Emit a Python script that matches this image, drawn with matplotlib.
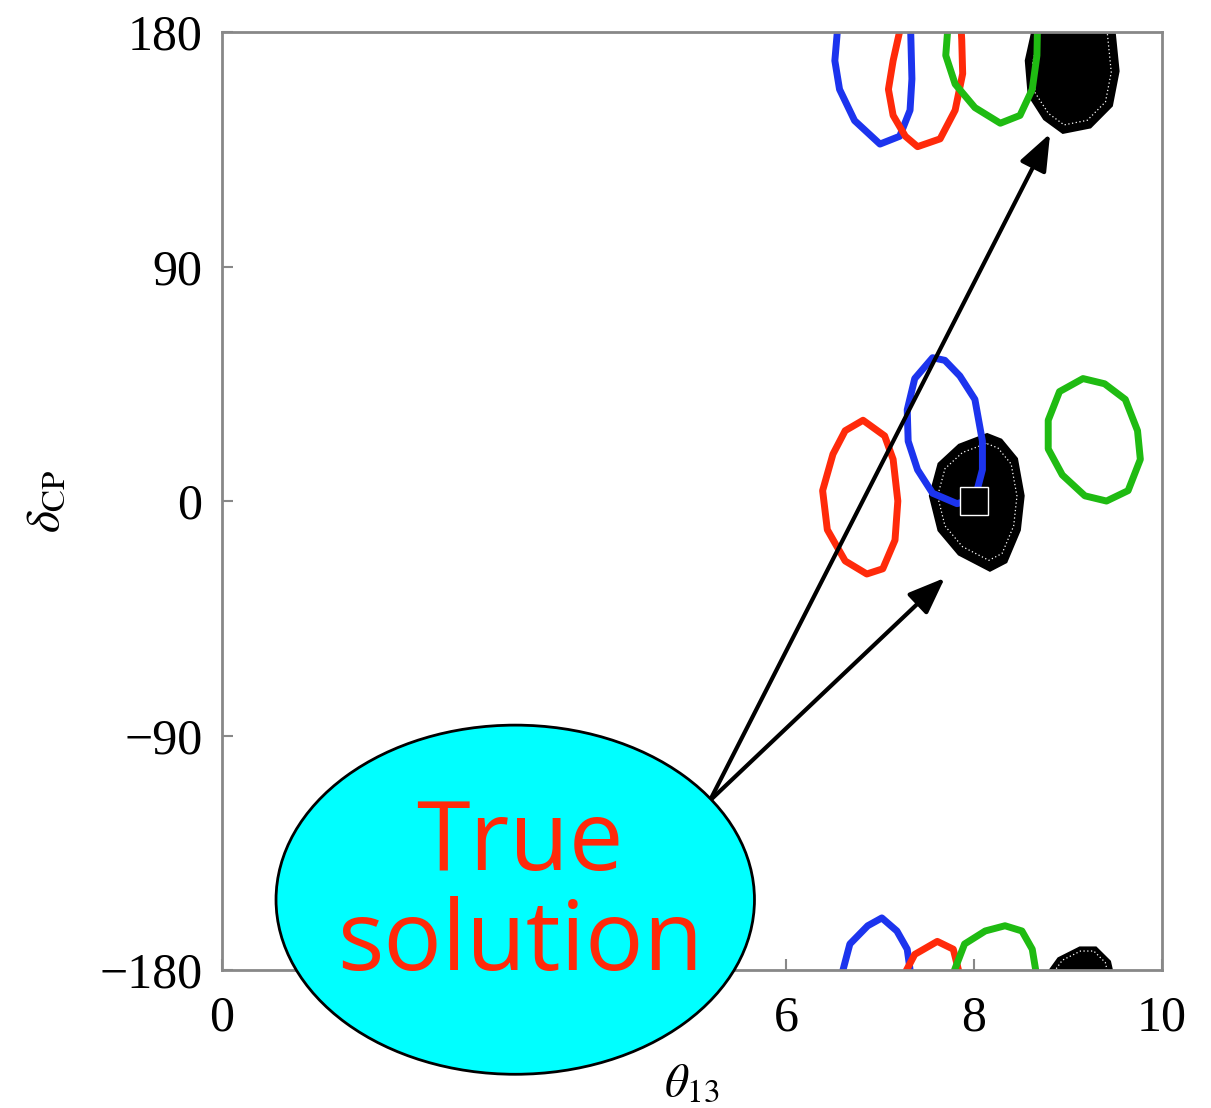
import numpy as np
import matplotlib.pyplot as plt
from matplotlib.patches import Ellipse, Polygon

plt.rcParams['mathtext.fontset'] = 'stix'

# contour outlines: (theta13, deltaCP)
blue_mid = [(7.56, 55), (7.37, 47), (7.29, 35), (7.30, 23), (7.40, 12), (7.56, 3), (7.82, -1),
            (8.01, 1), (8.09, 12), (8.09, 23), (8.01, 39), (7.85, 48), (7.69, 54)]
red_mid = [(6.82, 31), (6.63, 27), (6.50, 18), (6.39, 4), (6.44, -11), (6.63, -23), (6.86, -28),
           (7.03, -26), (7.16, -15), (7.19, 0), (7.14, 16), (7.05, 25)]
green_mid = [(9.16, 47), (8.91, 42), (8.79, 31), (8.79, 20), (8.94, 10), (9.18, 2), (9.41, 0),
             (9.64, 4), (9.77, 16), (9.74, 27), (9.61, 39), (9.39, 45)]
black_mid = [(8.14, 25), (7.85, 21), (7.64, 14), (7.55, 2), (7.64, -11), (7.85, -20), (8.17, -26),
             (8.33, -23), (8.47, -11), (8.51, 2), (8.44, 16), (8.28, 23)]

blue_top = [(6.57, 190), (6.52, 169), (6.57, 158), (6.73, 146), (7.00, 137), (7.21, 140),
            (7.32, 150), (7.34, 162), (7.32, 190)]
red_top = [(7.27, 190), (7.14, 169), (7.09, 158), (7.14, 148), (7.27, 140), (7.40, 136),
           (7.64, 139), (7.80, 150), (7.88, 164), (7.87, 177), (7.85, 190)]
green_top = [(7.74, 190), (7.70, 171), (7.80, 160), (8.01, 151), (8.28, 145), (8.49, 148),
             (8.62, 158), (8.67, 171), (8.68, 190)]
black_top = [(8.70, 190), (8.57, 169), (8.60, 156), (8.76, 147), (8.95, 142), (9.23, 144),
             (9.45, 152), (9.52, 165), (9.45, 190)]

blue_bot = [(6.57, -185), (6.68, -170), (6.87, -163), (7.02, -160), (7.18, -165), (7.29, -172), (7.34, -185)]
red_bot = [(7.21, -185), (7.37, -174), (7.61, -169), (7.78, -172), (7.87, -185)]
green_bot = [(7.74, -185), (7.90, -170), (8.12, -165), (8.33, -163), (8.51, -165), (8.62, -172), (8.68, -185)]
black_bot = [(8.73, -185), (8.91, -176), (9.13, -172), (9.29, -172), (9.43, -177), (9.48, -185)]

true_point = (8.0, 0.0)
arrow_start = (5.19, -115)
arrow_ends = [(8.81, 141), (7.69, -29.5)]

x_ticks = [0, 2, 4, 6, 8, 10]
y_ticks = [-180, -90, 0, 90, 180]

BLUE = '#1c34ee'
RED = '#ff2a0a'
GREEN = '#1fbb12'
LW = 5

fig = plt.figure(figsize=(12.11, 11.08), dpi=100)
ax = fig.add_axes([0.1833, 0.1245, 0.7762, 0.8466])
ax.set_xlim(0, 10)
ax.set_ylim(-180, 180)

for pts, c in [(red_mid, RED), (green_mid, GREEN)]:
    ax.add_patch(Polygon(pts, closed=True, fill=False, ec=c, lw=LW, joinstyle='round'))
for pts, c in [(blue_top, BLUE), (red_top, RED), (green_top, GREEN),
               (blue_bot, BLUE), (red_bot, RED), (green_bot, GREEN)]:
    a = np.array(pts)
    ax.plot(a[:, 0], a[:, 1], color=c, lw=LW, solid_joinstyle='round', zorder=2.2)

for pts in [black_mid, black_top, black_bot]:
    ax.add_patch(Polygon(pts, closed=True, fc='black', ec='black', lw=4, zorder=1.5))
    a = np.array(pts, dtype=float)
    cen = a.mean(axis=0)
    inner = cen + (a - cen) * 0.88
    ax.add_patch(Polygon(inner, closed=True, fill=False, ec='white', lw=0.9,
                         ls=(0, (1, 2)), zorder=1.6))

# middle blue sits above the black region
ax.add_patch(Polygon(blue_mid, closed=True, fill=False, ec=BLUE, lw=LW,
                     joinstyle='round', zorder=2.5))
ax.plot(*true_point, marker='s', ms=20, mfc='black', mec='white', mew=1, zorder=3)

for end in arrow_ends:
    ax.annotate('', xy=end, xytext=arrow_start,
                arrowprops=dict(arrowstyle='-|>,head_length=0.9,head_width=0.35',
                                color='black', lw=3, mutation_scale=25,
                                shrinkA=0, shrinkB=0), zorder=4)

# ticks and frame
ax.set_xticks(x_ticks)
ax.set_yticks(y_ticks)
ax.set_xticklabels([str(t) for t in x_ticks])
ax.set_yticklabels(['\u2212180', '\u221290', '0', '90', '180'])
ax.tick_params(direction='in', length=8, width=1.5, color='#888888', labelsize=36)
ax.tick_params(axis='x', pad=18)
ax.tick_params(axis='y', pad=14)
for lab in ax.get_xticklabels() + ax.get_yticklabels():
    lab.set_fontfamily('Liberation Serif')
for s in ax.spines.values():
    s.set_color('#888888')
    s.set_linewidth(2)

ax.set_xlabel(r'$\theta_{13}$', fontsize=34, labelpad=14)
ax.set_ylabel(r'$\delta_{\mathrm{CP}}$', fontsize=34, labelpad=22)

# callout bubble
ax.add_patch(Ellipse((3.12, -153), 5.09, 134, fc='#00ffff', ec='black', lw=2,
                     clip_on=False, zorder=5))
ax.text(3.17, -151, 'True\nsolution', color=RED, fontsize=70, family='Open Sans',
        ha='center', va='center', linespacing=1.05, zorder=6)

fig.savefig('out.png', dpi=100)
